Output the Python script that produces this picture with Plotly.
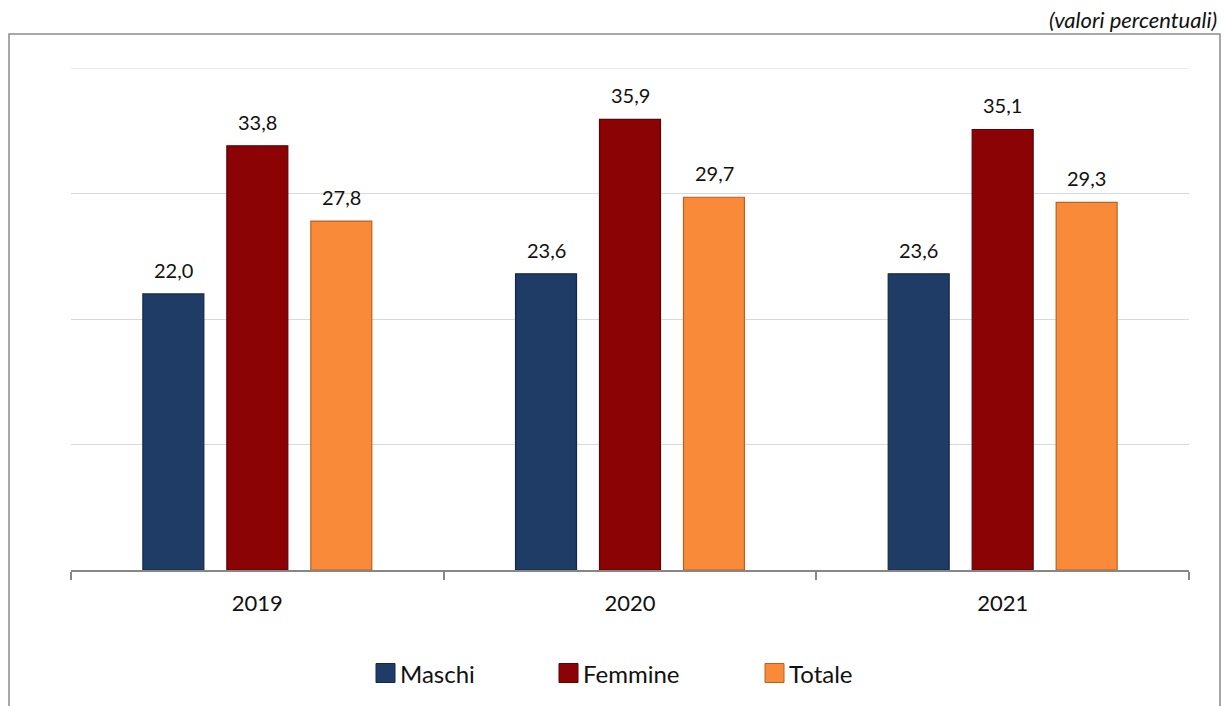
import plotly.graph_objects as go

# Anni e valori percentuali per genere
anni = ["2019", "2020", "2021"]
maschi = [22.0, 23.6, 23.6]
femmine = [33.8, 35.9, 35.1]
totale = [27.8, 29.7, 29.3]

serie = ["Maschi", "Femmine", "Totale"]
valori = [maschi, femmine, totale]
colori = ["#1F3C66", "#8B0304", "#F88A3A"]
bordi = ["#142846", "#5E0203", "#B9621F"]

y_max = 40

W, H = 1224, 706
L, R, T, B = 71, 35, 68, 136
plot_w = W - L - R
plot_h = H - T - B
FONT = "Lato, 'Open Sans', sans-serif"


def px_x(px):
    return (px - L) / plot_w


def px_y(py):
    return (H - B - py) / plot_h


fig = go.Figure()

for nome, vals, col, bd in zip(serie, valori, colori, bordi):
    fig.add_trace(go.Bar(
        x=anni, y=vals, name=nome, showlegend=False,
        marker=dict(color=col, line=dict(color=bd, width=1.2)),
    ))

# data labels above each bar (x given as category index)
slot = 84
for i, vals in enumerate(valori):
    for j, v in enumerate(vals):
        fig.add_annotation(
            x=j, y=v, xref="x", yref="y",
            text=f"{v:.1f}".replace(".", ","),
            showarrow=False, yanchor="bottom",
            xshift=(i - 1) * slot, yshift=10,
            font=dict(family=FONT, size=20, color="#111111"),
        )

# unit note top right
fig.add_annotation(
    xref="paper", yref="paper",
    x=px_x(1219), y=px_y(19),
    text="<i>(valori percentuali)</i>", showarrow=False,
    xanchor="right", yanchor="middle",
    font=dict(family=FONT, size=22, color="#111111"),
)

# outer frame of the chart area
fig.add_shape(
    type="rect", xref="paper", yref="paper",
    x0=px_x(9), x1=px_x(1220), y0=px_y(760), y1=px_y(34),
    line=dict(color="#8A8A8A", width=1.5), fillcolor="rgba(0,0,0,0)",
    layer="below",
)

# gridline at the top of the value range
fig.add_shape(
    type="line", xref="paper", yref="y",
    x0=0, x1=1, y0=y_max, y1=y_max,
    line=dict(color="#D9D9D9", width=1.2), layer="below",
)

# legend: coloured square followed by the series name
legend_left = [376, 559, 765]
legend_y = 673
sq = 19
for nome, col, bd, lx in zip(serie, colori, bordi, legend_left):
    fig.add_shape(
        type="rect", xref="paper", yref="paper",
        x0=px_x(lx), x1=px_x(lx + sq),
        y0=px_y(legend_y + sq / 2), y1=px_y(legend_y - sq / 2),
        fillcolor=col, line=dict(color=bd, width=1),
    )
    fig.add_annotation(
        xref="paper", yref="paper",
        x=px_x(lx + sq + 3), y=px_y(legend_y),
        text=nome, showarrow=False,
        xanchor="left", yanchor="middle",
        font=dict(family=FONT, size=24, color="#111111"),
    )

fig.update_layout(
    width=W, height=H,
    margin=dict(l=L, r=R, t=T, b=B, autoexpand=False),
    paper_bgcolor="white", plot_bgcolor="white",
    barmode="group", bargap=0.324, bargroupgap=0.274,
    showlegend=False,
    font=dict(family=FONT, size=20, color="#111111"),
    xaxis=dict(
        type="category", categoryorder="array", categoryarray=anni,
        range=[-0.5, len(anni) - 0.5],
        showgrid=False,
        showline=True, linecolor="#868686", linewidth=1.5,
        ticks="outside", tickson="boundaries", ticklen=8,
        tickcolor="#868686", tickwidth=1.5,
        ticklabelstandoff=13, tickangle=0,
        tickfont=dict(family=FONT, size=22, color="#111111"),
    ),
    yaxis=dict(
        range=[0, y_max], dtick=10, showticklabels=False,
        showgrid=True, gridcolor="#D9D9D9", gridwidth=1.2,
        zeroline=False, showline=False,
    ),
)

fig.write_html("out.html")
